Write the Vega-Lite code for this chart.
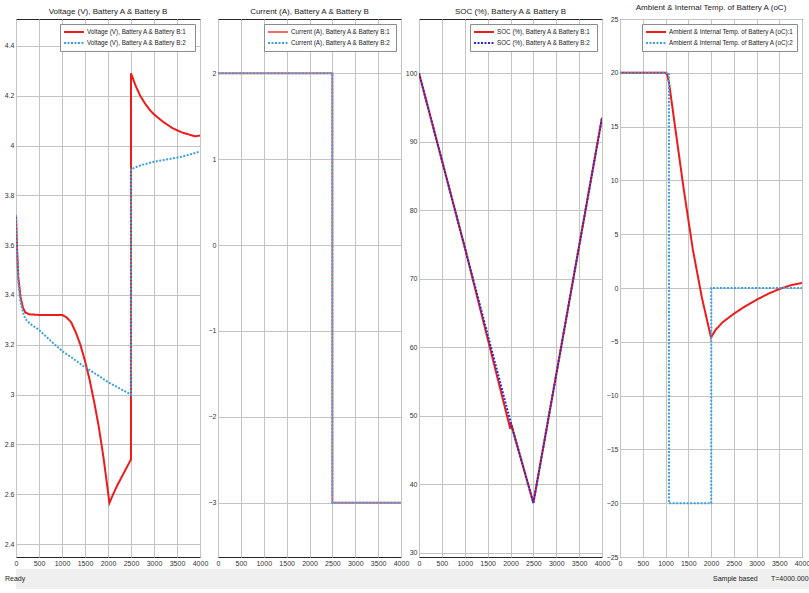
{
  "$schema": "https://vega.github.io/schema/vega-lite/v6.json",
  "padding": {"left": 3, "top": 3, "right": 0, "bottom": 0},
  "background": "white",
  "datasets": {
    "volt": [
      {"s": "Voltage (V), Battery  A  & Battery  B:1", "t": 0, "v": 3.72},
      {"s": "Voltage (V), Battery  A  & Battery  B:1", "t": 20, "v": 3.6},
      {"s": "Voltage (V), Battery  A  & Battery  B:1", "t": 50, "v": 3.47},
      {"s": "Voltage (V), Battery  A  & Battery  B:1", "t": 100, "v": 3.39},
      {"s": "Voltage (V), Battery  A  & Battery  B:1", "t": 150, "v": 3.35},
      {"s": "Voltage (V), Battery  A  & Battery  B:1", "t": 200, "v": 3.33},
      {"s": "Voltage (V), Battery  A  & Battery  B:1", "t": 300, "v": 3.322},
      {"s": "Voltage (V), Battery  A  & Battery  B:1", "t": 500, "v": 3.32},
      {"s": "Voltage (V), Battery  A  & Battery  B:1", "t": 800, "v": 3.32},
      {"s": "Voltage (V), Battery  A  & Battery  B:1", "t": 1000, "v": 3.32},
      {"s": "Voltage (V), Battery  A  & Battery  B:1", "t": 1100, "v": 3.31},
      {"s": "Voltage (V), Battery  A  & Battery  B:1", "t": 1200, "v": 3.29},
      {"s": "Voltage (V), Battery  A  & Battery  B:1", "t": 1300, "v": 3.25},
      {"s": "Voltage (V), Battery  A  & Battery  B:1", "t": 1400, "v": 3.2},
      {"s": "Voltage (V), Battery  A  & Battery  B:1", "t": 1500, "v": 3.135},
      {"s": "Voltage (V), Battery  A  & Battery  B:1", "t": 1600, "v": 3.06},
      {"s": "Voltage (V), Battery  A  & Battery  B:1", "t": 1700, "v": 2.97},
      {"s": "Voltage (V), Battery  A  & Battery  B:1", "t": 1800, "v": 2.87},
      {"s": "Voltage (V), Battery  A  & Battery  B:1", "t": 1900, "v": 2.75},
      {"s": "Voltage (V), Battery  A  & Battery  B:1", "t": 2000, "v": 2.61},
      {"s": "Voltage (V), Battery  A  & Battery  B:1", "t": 2030, "v": 2.565},
      {"s": "Voltage (V), Battery  A  & Battery  B:1", "t": 2100, "v": 2.595},
      {"s": "Voltage (V), Battery  A  & Battery  B:1", "t": 2200, "v": 2.635},
      {"s": "Voltage (V), Battery  A  & Battery  B:1", "t": 2300, "v": 2.67},
      {"s": "Voltage (V), Battery  A  & Battery  B:1", "t": 2400, "v": 2.705},
      {"s": "Voltage (V), Battery  A  & Battery  B:1", "t": 2499, "v": 2.74},
      {"s": "Voltage (V), Battery  A  & Battery  B:1", "t": 2500, "v": 4.29},
      {"s": "Voltage (V), Battery  A  & Battery  B:1", "t": 2600, "v": 4.24},
      {"s": "Voltage (V), Battery  A  & Battery  B:1", "t": 2700, "v": 4.2},
      {"s": "Voltage (V), Battery  A  & Battery  B:1", "t": 2800, "v": 4.17},
      {"s": "Voltage (V), Battery  A  & Battery  B:1", "t": 2900, "v": 4.145},
      {"s": "Voltage (V), Battery  A  & Battery  B:1", "t": 3000, "v": 4.125},
      {"s": "Voltage (V), Battery  A  & Battery  B:1", "t": 3200, "v": 4.095},
      {"s": "Voltage (V), Battery  A  & Battery  B:1", "t": 3400, "v": 4.07},
      {"s": "Voltage (V), Battery  A  & Battery  B:1", "t": 3600, "v": 4.053},
      {"s": "Voltage (V), Battery  A  & Battery  B:1", "t": 3800, "v": 4.042},
      {"s": "Voltage (V), Battery  A  & Battery  B:1", "t": 3900, "v": 4.037},
      {"s": "Voltage (V), Battery  A  & Battery  B:1", "t": 4000, "v": 4.04},
      {"s": "Voltage (V), Battery  A  & Battery  B:2", "t": 0, "v": 3.72},
      {"s": "Voltage (V), Battery  A  & Battery  B:2", "t": 20, "v": 3.58},
      {"s": "Voltage (V), Battery  A  & Battery  B:2", "t": 50, "v": 3.45},
      {"s": "Voltage (V), Battery  A  & Battery  B:2", "t": 100, "v": 3.37},
      {"s": "Voltage (V), Battery  A  & Battery  B:2", "t": 150, "v": 3.33},
      {"s": "Voltage (V), Battery  A  & Battery  B:2", "t": 200, "v": 3.305},
      {"s": "Voltage (V), Battery  A  & Battery  B:2", "t": 300, "v": 3.285},
      {"s": "Voltage (V), Battery  A  & Battery  B:2", "t": 500, "v": 3.26},
      {"s": "Voltage (V), Battery  A  & Battery  B:2", "t": 700, "v": 3.225},
      {"s": "Voltage (V), Battery  A  & Battery  B:2", "t": 1000, "v": 3.175},
      {"s": "Voltage (V), Battery  A  & Battery  B:2", "t": 1200, "v": 3.15},
      {"s": "Voltage (V), Battery  A  & Battery  B:2", "t": 1500, "v": 3.11},
      {"s": "Voltage (V), Battery  A  & Battery  B:2", "t": 1800, "v": 3.075},
      {"s": "Voltage (V), Battery  A  & Battery  B:2", "t": 2000, "v": 3.05},
      {"s": "Voltage (V), Battery  A  & Battery  B:2", "t": 2200, "v": 3.03},
      {"s": "Voltage (V), Battery  A  & Battery  B:2", "t": 2400, "v": 3.01},
      {"s": "Voltage (V), Battery  A  & Battery  B:2", "t": 2499, "v": 3.0},
      {"s": "Voltage (V), Battery  A  & Battery  B:2", "t": 2500, "v": 3.905},
      {"s": "Voltage (V), Battery  A  & Battery  B:2", "t": 2700, "v": 3.92},
      {"s": "Voltage (V), Battery  A  & Battery  B:2", "t": 3000, "v": 3.935},
      {"s": "Voltage (V), Battery  A  & Battery  B:2", "t": 3300, "v": 3.945},
      {"s": "Voltage (V), Battery  A  & Battery  B:2", "t": 3600, "v": 3.955},
      {"s": "Voltage (V), Battery  A  & Battery  B:2", "t": 3800, "v": 3.965},
      {"s": "Voltage (V), Battery  A  & Battery  B:2", "t": 4000, "v": 3.976}
    ],
    "cur": [
      {"s": "Current (A), Battery  A & Battery B:1", "t": 0, "v": 2},
      {"s": "Current (A), Battery  A & Battery B:1", "t": 2499, "v": 2},
      {"s": "Current (A), Battery  A & Battery B:1", "t": 2500, "v": -3},
      {"s": "Current (A), Battery  A & Battery B:1", "t": 4000, "v": -3},
      {"s": "Current (A), Battery  A & Battery B:2", "t": 0, "v": 2},
      {"s": "Current (A), Battery  A & Battery B:2", "t": 2499, "v": 2},
      {"s": "Current (A), Battery  A & Battery B:2", "t": 2500, "v": -3},
      {"s": "Current (A), Battery  A & Battery B:2", "t": 4000, "v": -3}
    ],
    "soc": [
      {"s": "SOC (%), Battery  A & Battery  B:1", "t": 0, "v": 100},
      {"s": "SOC (%), Battery  A & Battery  B:1", "t": 1000, "v": 74.6},
      {"s": "SOC (%), Battery  A & Battery  B:1", "t": 1995, "v": 48.1},
      {"s": "SOC (%), Battery  A & Battery  B:1", "t": 2005, "v": 49.0},
      {"s": "SOC (%), Battery  A & Battery  B:1", "t": 2500, "v": 37.3},
      {"s": "SOC (%), Battery  A & Battery  B:1", "t": 4000, "v": 93.5},
      {"s": "SOC (%), Battery  A & Battery  B:2", "t": 0, "v": 100},
      {"s": "SOC (%), Battery  A & Battery  B:2", "t": 1000, "v": 74.6},
      {"s": "SOC (%), Battery  A & Battery  B:2", "t": 2005, "v": 49.0},
      {"s": "SOC (%), Battery  A & Battery  B:2", "t": 2500, "v": 37.3},
      {"s": "SOC (%), Battery  A & Battery  B:2", "t": 4000, "v": 93.5}
    ],
    "temp": [
      {"s": "Ambient & Internal Temp. of Battery A (oC):1", "t": 0, "v": 20},
      {"s": "Ambient & Internal Temp. of Battery A (oC):1", "t": 1000, "v": 20},
      {"s": "Ambient & Internal Temp. of Battery A (oC):1", "t": 1040, "v": 19.8},
      {"s": "Ambient & Internal Temp. of Battery A (oC):1", "t": 1080, "v": 19.0},
      {"s": "Ambient & Internal Temp. of Battery A (oC):1", "t": 1200, "v": 15.3},
      {"s": "Ambient & Internal Temp. of Battery A (oC):1", "t": 1400, "v": 9.2},
      {"s": "Ambient & Internal Temp. of Battery A (oC):1", "t": 1600, "v": 3.6},
      {"s": "Ambient & Internal Temp. of Battery A (oC):1", "t": 1800, "v": -0.9},
      {"s": "Ambient & Internal Temp. of Battery A (oC):1", "t": 2000, "v": -4.6},
      {"s": "Ambient & Internal Temp. of Battery A (oC):1", "t": 2100, "v": -3.9},
      {"s": "Ambient & Internal Temp. of Battery A (oC):1", "t": 2250, "v": -3.2},
      {"s": "Ambient & Internal Temp. of Battery A (oC):1", "t": 2500, "v": -2.4},
      {"s": "Ambient & Internal Temp. of Battery A (oC):1", "t": 2750, "v": -1.7},
      {"s": "Ambient & Internal Temp. of Battery A (oC):1", "t": 3000, "v": -1.1},
      {"s": "Ambient & Internal Temp. of Battery A (oC):1", "t": 3250, "v": -0.55},
      {"s": "Ambient & Internal Temp. of Battery A (oC):1", "t": 3500, "v": -0.1},
      {"s": "Ambient & Internal Temp. of Battery A (oC):1", "t": 3750, "v": 0.25},
      {"s": "Ambient & Internal Temp. of Battery A (oC):1", "t": 4000, "v": 0.47},
      {"s": "Ambient & Internal Temp. of Battery A (oC):2", "t": 0, "v": 20},
      {"s": "Ambient & Internal Temp. of Battery A (oC):2", "t": 1075, "v": 20},
      {"s": "Ambient & Internal Temp. of Battery A (oC):2", "t": 1076, "v": -20},
      {"s": "Ambient & Internal Temp. of Battery A (oC):2", "t": 2005, "v": -20},
      {"s": "Ambient & Internal Temp. of Battery A (oC):2", "t": 2006, "v": 0},
      {"s": "Ambient & Internal Temp. of Battery A (oC):2", "t": 4000, "v": 0}
    ],
    "status": [
      {"x": 4, "label": "Ready"},
      {"x": 712, "label": "Sample based"},
      {"x": 770, "label": "T=4000.000"}
    ]
  },
  "vconcat": [
    {
      "hconcat": [
        {
          "width": 184, "height": 538,
          "title": "Voltage (V), Battery  A  & Battery  B",
          "data": {"name": "volt"},
          "mark": {"type": "line", "strokeWidth": 2, "clip": true},
          "encoding": {
            "x": {"field": "t", "type": "quantitative", "scale": {"domain": [0, 4000], "nice": false}, "axis": {"values": [0, 500, 1000, 1500, 2000, 2500, 3000, 3500, 4000], "format": "d"}},
            "y": {"field": "v", "type": "quantitative", "scale": {"domain": [2.348, 4.508], "nice": false, "zero": false}, "axis": {"values": [2.4, 2.6, 2.8, 3, 3.2, 3.4, 3.6, 3.8, 4, 4.2, 4.4], "format": "~g"}},
            "color": {"field": "s", "type": "nominal", "scale": {"range": ["#ee1b1b", "#3da0e4"]}, "legend": {"orient": "top-right", "offset": 5}},
            "strokeDash": {"field": "s", "type": "nominal", "scale": {"range": [[1, 0], [2, 1.5]]}, "legend": {"orient": "top-right", "offset": 5}}
          }
        },
        {
          "width": 183, "height": 538,
          "title": "Current (A), Battery  A & Battery B",
          "data": {"name": "cur"},
          "mark": {"type": "line", "strokeWidth": 2, "clip": true},
          "encoding": {
            "x": {"field": "t", "type": "quantitative", "scale": {"domain": [0, 4000], "nice": false}, "axis": {"values": [0, 500, 1000, 1500, 2000, 2500, 3000, 3500, 4000], "format": "d"}},
            "y": {"field": "v", "type": "quantitative", "scale": {"domain": [-3.63, 2.63], "nice": false, "zero": false}, "axis": {"values": [-3, -2, -1, 0, 1, 2], "format": "d"}},
            "color": {"field": "s", "type": "nominal", "scale": {"range": ["#f06a6a", "#3da0e4"]}, "legend": {"orient": "top-right", "offset": 5}},
            "strokeDash": {"field": "s", "type": "nominal", "scale": {"range": [[1, 0], [2, 1.5]]}, "legend": {"orient": "top-right", "offset": 5}}
          }
        },
        {
          "width": 183, "height": 538,
          "title": "SOC (%), Battery  A & Battery  B",
          "data": {"name": "soc"},
          "mark": {"type": "line", "strokeWidth": 2, "clip": true},
          "encoding": {
            "x": {"field": "t", "type": "quantitative", "scale": {"domain": [0, 4000], "nice": false}, "axis": {"values": [0, 500, 1000, 1500, 2000, 2500, 3000, 3500, 4000], "format": "d"}},
            "y": {"field": "v", "type": "quantitative", "scale": {"domain": [29.4, 107.9], "nice": false, "zero": false}, "axis": {"values": [30, 40, 50, 60, 70, 80, 90, 100], "format": "d"}},
            "color": {"field": "s", "type": "nominal", "scale": {"range": ["#ee1b1b", "#2a2ad0"]}, "legend": {"orient": "top-right", "offset": 5}},
            "strokeDash": {"field": "s", "type": "nominal", "scale": {"range": [[1, 0], [2, 1.5]]}, "legend": {"orient": "top-right", "offset": 5}}
          }
        },
        {
          "width": 182, "height": 538,
          "title": "Ambient & Internal Temp. of Battery A (oC)",
          "data": {"name": "temp"},
          "mark": {"type": "line", "strokeWidth": 2, "clip": true},
          "encoding": {
            "x": {"field": "t", "type": "quantitative", "scale": {"domain": [0, 4000], "nice": false}, "axis": {"values": [0, 500, 1000, 1500, 2000, 2500, 3000, 3500, 4000], "format": "d"}},
            "y": {"field": "v", "type": "quantitative", "scale": {"domain": [-25, 25], "nice": false, "zero": false}, "axis": {"values": [-25, -20, -15, -10, -5, 0, 5, 10, 15, 20, 25], "format": "d"}},
            "color": {"field": "s", "type": "nominal", "scale": {"range": ["#ee1b1b", "#3da0e4"]}, "legend": {"orient": "top-right", "offset": 5}},
            "strokeDash": {"field": "s", "type": "nominal", "scale": {"range": [[1, 0], [2, 1.5]]}, "legend": {"orient": "top-right", "offset": 5}}
          }
        }
      ],
      "spacing": 18,
      "bounds": "flush",
      "resolve": {"scale": {"color": "independent", "strokeDash": "independent", "x": "independent", "y": "independent"}, "legend": {"color": "independent", "strokeDash": "independent"}}
    },
    {
      "width": 794, "height": 20,
      "data": {"name": "status"},
      "view": {"fill": "#efefef", "stroke": null},
      "mark": {"type": "text", "align": "left", "baseline": "middle", "fontSize": 7, "color": "#222"},
      "encoding": {
        "x": {"field": "x", "type": "quantitative", "scale": {"domain": [15, 809], "nice": false}, "axis": null},
        "text": {"field": "label", "type": "nominal"}
      }
    }
  ],
  "spacing": 2,
  "config": {
    "font": "Liberation Sans, Arial, sans-serif",
    "view": {"stroke": "#262626", "strokeWidth": 1},
    "axis": {"labelFontSize": 7, "labelColor": "#333", "gridColor": "#c4c4c4", "gridWidth": 1, "domain": false, "ticks": false, "title": null, "labelPadding": 2, "labelFlush": false, "labelOverlap": false},
    "title": {"fontSize": 8, "fontWeight": "normal", "color": "#222", "offset": 3},
    "legend": {"title": null, "fillColor": "white", "strokeColor": "#8c8c8c", "padding": 3, "rowPadding": 1, "symbolType": "stroke", "symbolSize": 400, "clipHeight": 10, "symbolStrokeWidth": 2, "labelFontSize": 6.3, "labelLimit": 250, "labelColor": "#222", "labelOffset": 2}
  }
}
